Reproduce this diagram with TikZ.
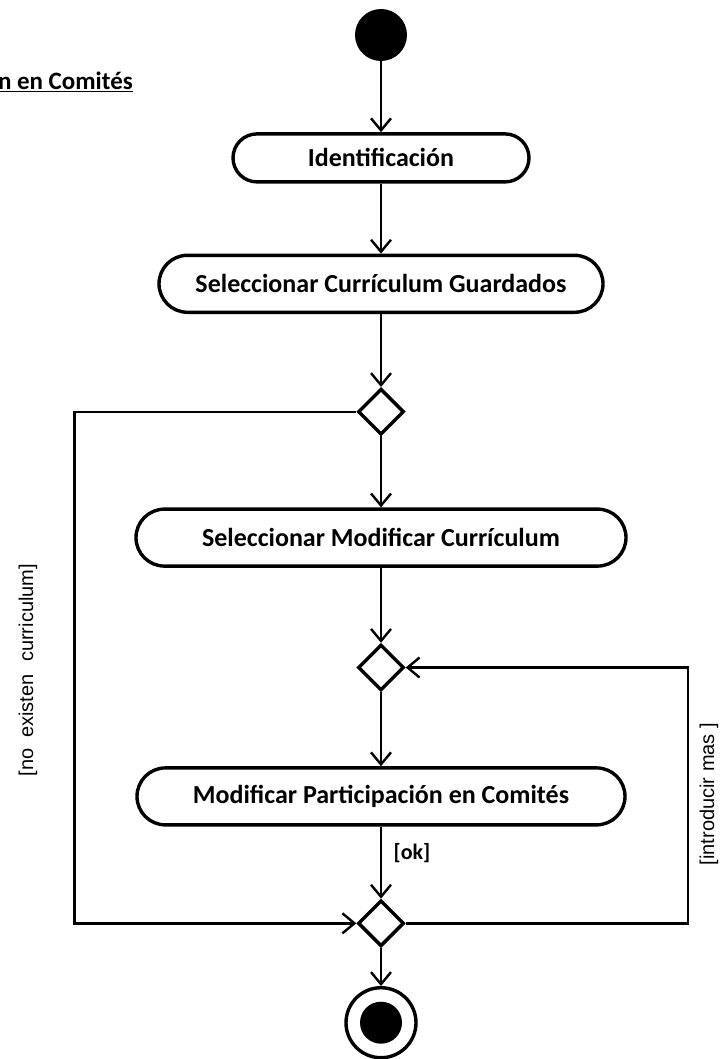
\documentclass[tikz,border=0pt]{standalone}
\usepackage{fontspec}
\setmainfont{Carlito}
\newfontfamily\guardfont{Liberation Sans}
\usetikzlibrary{arrows.meta,positioning,shapes.geometric}

\begin{document}
\begin{tikzpicture}[x=1pt,y=1pt,
    act/.style={draw,line width=3.4pt,rounded corners=28.5pt,minimum height=57pt,align=center,inner sep=2mm,font=\fontsize{26}{30}\selectfont\bfseries},
    dec/.style={draw,diamond,line width=3.4pt,minimum width=46pt,minimum height=46pt,inner sep=0pt},
    gd/.style={font=\guardfont\fontsize{20}{24}\selectfont,inner sep=0pt},
    a/.style={-{Straight Barb[length=12pt,width=20pt]},line width=2.4pt}]
  \useasboundingbox (0,0) rectangle (724,-1059);
  \node[anchor=base east,inner sep=0pt,font=\fontsize{25}{30}\selectfont\bfseries] (titulo) at (133,-90) {\underline{n en Comités}};
  \node[circle,fill,minimum size=52pt,inner sep=0pt] (start) at (381,-35) {};
  \node[act,rounded corners=24pt,minimum height=48pt,minimum width=296pt,below=71pt of start] (ident) {Identificación};
  \node[act,minimum width=444pt,below=70pt of ident] (guard) {Seleccionar Currículum Guardados};
  \node[dec,below=73pt of guard] (d1) {};
  \node[act,minimum width=490pt,below=71pt of d1] (selmod) {Seleccionar Modificar Currículum};
  \node[dec,below=75pt of selmod] (d2) {};
  \node[act,minimum width=488pt,below=74pt of d2] (modpart) {Modificar Participación en Comités};
  \node[dec,below=72pt of modpart] (d3) {};
  \node[circle,draw,line width=3.4pt,minimum size=70pt,inner sep=0pt,below=38pt of d3] (fin) {};
  \node[circle,fill,minimum size=42pt,inner sep=0pt] (finin) at (fin) {};
  \coordinate[left=282pt of d3.west] (lx);
  \coordinate[right=282pt of d3.east] (rx);
  \draw[a] (start) -- (ident); \draw[a] (ident) -- (guard); \draw[a] (guard) -- (d1); \draw[a] (d1) -- (selmod);
  \draw[a] (selmod) -- (d2); \draw[a] (d2) -- (modpart); \draw[a] (modpart) -- (d3); \draw[a] (d3) -- (fin);
  \draw[a] (d1.west) -| (lx) -- (d3.west);
  \draw[a] (d3.east) -- (rx) |- (d2.east);
  \node[gd,rotate=90] (noex) at (28,-670) {[no\hspace{5pt} existen\hspace{7pt} curriculum]};
  \node[gd,rotate=90] (mas) at (709,-794) {[introducir mas ]};
  \node[inner sep=0pt,font=\fontsize{22}{26}\selectfont\bfseries] (ok) at (412,-853) {[ok]};
\end{tikzpicture}
\end{document}
